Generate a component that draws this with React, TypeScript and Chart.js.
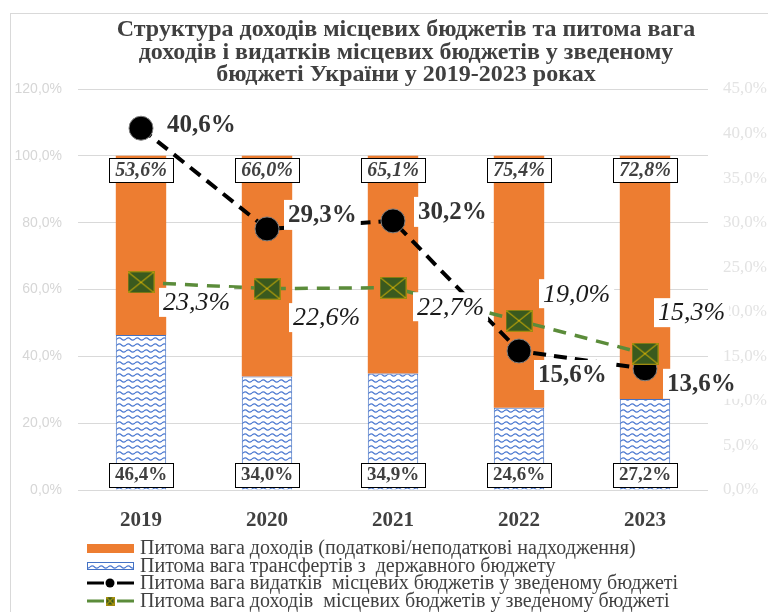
import React, { useEffect, useRef } from 'react';
import { Chart, registerables } from 'chart.js';

Chart.register(...registerables);

const years = ['2019', '2020', '2021', '2022', '2023'];
const ownRevenueShare = [53.6, 66.0, 65.1, 75.4, 72.8];
const transferShare = [46.4, 34.0, 34.9, 24.6, 27.2];
const expenditureShare = [40.6, 29.3, 30.2, 15.6, 13.6];
const revenueShare = [23.3, 22.6, 22.7, 19.0, 15.3];

const leftAxis = { min: 0, max: 120, step: 20 };
const rightAxis = { min: 0, max: 45, step: 5 };

const titleLines = [
  'Структура доходів місцевих бюджетів та питома вага',
  'доходів і видатків місцевих бюджетів у зведеному',
  'бюджеті України у 2019-2023 роках',
];

const legendLabels = [
  'Питома вага доходів (податкові/неподаткові надходження)',
  'Питома вага трансфертів з  державного бюджету',
  'Питома вага видатків  місцевих бюджетів у зведеному бюджеті',
  'Питома вага доходів  місцевих бюджетів у зведеному бюджеті',
];

// label placement offsets relative to each point (style only)
const expLabelOffsets = [[26, -4], [21, -14], [25, -9], [19, 24], [22, 15]];
const revLabelOffsets = [[22, 20], [26, 29], [24, 19], [24, -27], [13, -41]];

const SERIF = '"Liberation Serif", "Times New Roman", serif';
const ORANGE = '#ED7D31';
const BLUE = '#4472C4';

const fmt = (v: number) => v.toFixed(1).replace('.', ',') + '%';

function makeWavePattern(ctx: CanvasRenderingContext2D) {
  const c = document.createElement('canvas');
  c.width = 9;
  c.height = 6;
  const g = c.getContext('2d')!;
  g.fillStyle = '#ffffff';
  g.fillRect(0, 0, 9, 6);
  g.strokeStyle = '#4a78d0';
  g.lineWidth = 1.2;
  g.beginPath();
  g.moveTo(0, 3);
  g.quadraticCurveTo(2.25, 0.8, 4.5, 3);
  g.quadraticCurveTo(6.75, 5.2, 9, 3);
  g.stroke();
  return ctx.createPattern(c, 'repeat')!;
}

function makeGreenMarker(w: number, h: number) {
  const c = document.createElement('canvas');
  c.width = w;
  c.height = h;
  const g = c.getContext('2d')!;
  g.fillStyle = '#3A5A1E';
  g.fillRect(0, 0, w, h);
  g.strokeStyle = '#F2C200';
  g.lineWidth = 1;
  g.beginPath();
  g.moveTo(1, 1);
  g.lineTo(w - 1, h - 1);
  g.moveTo(w - 1, 1);
  g.lineTo(1, h - 1);
  g.stroke();
  g.strokeStyle = '#A08A10';
  g.strokeRect(0.5, 0.5, w - 1, h - 1);
  return c;
}

function textWithBg(ctx: CanvasRenderingContext2D, text: string, x: number, cy: number, font: string, color: string, h: number) {
  ctx.font = font;
  const w = ctx.measureText(text).width;
  ctx.fillStyle = '#ffffff';
  ctx.fillRect(x - 4, cy - h / 2, w + 8, h);
  ctx.fillStyle = color;
  ctx.textAlign = 'left';
  ctx.textBaseline = 'middle';
  ctx.fillText(text, x, cy + 1);
}

function boxedLabel(ctx: CanvasRenderingContext2D, text: string, cx: number, cy: number, font: string, color: string) {
  ctx.font = font;
  const w = ctx.measureText(text).width + 12;
  const h = 24;
  ctx.fillStyle = '#ffffff';
  ctx.fillRect(Math.round(cx - w / 2) + 0.5, Math.round(cy - h / 2) + 0.5, Math.round(w), h);
  ctx.strokeStyle = '#000000';
  ctx.lineWidth = 1;
  ctx.strokeRect(Math.round(cx - w / 2) + 0.5, Math.round(cy - h / 2) + 0.5, Math.round(w), h);
  ctx.fillStyle = color;
  ctx.textAlign = 'center';
  ctx.textBaseline = 'middle';
  ctx.fillText(text, cx, cy + 1);
}

export default function App() {
  const ref = useRef<HTMLCanvasElement>(null);

  useEffect(() => {
    const canvas = ref.current!;
    const ctx0 = canvas.getContext('2d')!;
    const wave = makeWavePattern(ctx0);
    const greenMarker = makeGreenMarker(27, 22);
    const greenLegendMarker = makeGreenMarker(9, 9);

    const plugin = {
      id: 'customDecor',
      beforeDraw(chart: any) {
        const ctx = chart.ctx;
        ctx.save();
        ctx.fillStyle = '#ffffff';
        ctx.fillRect(0, 0, chart.width, chart.height);
        ctx.strokeStyle = '#d9d9d9';
        ctx.lineWidth = 1;
        ctx.strokeRect(10.5, 13.5, 900, 900);
        ctx.restore();
      },
      afterDatasetsDraw(chart: any) {
        const ctx = chart.ctx;
        ctx.save();
        const blueMeta = chart.getDatasetMeta(0);
        const orangeMeta = chart.getDatasetMeta(1);
        const expMeta = chart.getDatasetMeta(2);
        const revMeta = chart.getDatasetMeta(3);
        orangeMeta.data.forEach((el: any, i: number) => {
          boxedLabel(ctx, fmt(ownRevenueShare[i]), el.x, el.y + 14, `italic bold 20px ${SERIF}`, '#404040');
        });
        blueMeta.data.forEach((el: any, i: number) => {
          boxedLabel(ctx, fmt(transferShare[i]), el.x, el.base - 15, `bold 19px ${SERIF}`, '#404040');
        });
        expMeta.data.forEach((el: any, i: number) => {
          const [dx, dy] = expLabelOffsets[i];
          textWithBg(ctx, fmt(expenditureShare[i]), el.x + dx, el.y + dy, `bold 25px ${SERIF}`, '#333333', 30);
        });
        revMeta.data.forEach((el: any, i: number) => {
          const [dx, dy] = revLabelOffsets[i];
          textWithBg(ctx, fmt(revenueShare[i]), el.x + dx, el.y + dy, `italic 26px ${SERIF}`, '#1a1a1a', 29);
        });
        ctx.restore();
      },
      afterDraw(chart: any) {
        const ctx = chart.ctx;
        ctx.save();
        // title
        ctx.font = `bold 24px ${SERIF}`;
        ctx.fillStyle = '#404040';
        ctx.textAlign = 'center';
        ctx.textBaseline = 'middle';
        titleLines.forEach((t, i) => ctx.fillText(t, 406, 30 + i * 22.5));
        // legend
        const rows = [548, 566, 583, 601];
        const x0 = 87, x1 = 134, cxm = 110;
        ctx.fillStyle = ORANGE;
        ctx.fillRect(x0, rows[0] - 4, x1 - x0, 9);
        ctx.fillStyle = wave;
        ctx.fillRect(x0, rows[1] - 4, x1 - x0, 8);
        ctx.strokeStyle = BLUE;
        ctx.lineWidth = 1;
        ctx.strokeRect(x0 + 0.5, rows[1] - 3.5, x1 - x0 - 1, 7);
        ctx.strokeStyle = '#000000';
        ctx.lineWidth = 3;
        ctx.beginPath();
        ctx.moveTo(x0, rows[2]);
        ctx.lineTo(cxm - 6, rows[2]);
        ctx.moveTo(cxm + 7, rows[2]);
        ctx.lineTo(x1, rows[2]);
        ctx.stroke();
        ctx.fillStyle = '#000000';
        ctx.beginPath();
        ctx.arc(cxm, rows[2], 4.5, 0, Math.PI * 2);
        ctx.fill();
        ctx.strokeStyle = '#5B8C3A';
        ctx.beginPath();
        ctx.moveTo(x0, rows[3]);
        ctx.lineTo(cxm - 6, rows[3]);
        ctx.moveTo(cxm + 7, rows[3]);
        ctx.lineTo(x1, rows[3]);
        ctx.stroke();
        ctx.drawImage(greenLegendMarker, cxm - 4.5, rows[3] - 4.5);
        ctx.font = `20px ${SERIF}`;
        ctx.fillStyle = '#404040';
        ctx.textAlign = 'left';
        ctx.textBaseline = 'middle';
        legendLabels.forEach((t, i) => ctx.fillText(t, 140, rows[i] + 1));
        ctx.restore();
      },
    };

    const chart = new Chart(canvas, {
      type: 'bar',
      data: {
        labels: years,
        datasets: [
          {
            type: 'bar',
            label: legendLabels[1],
            data: transferShare,
            backgroundColor: wave,
            borderColor: BLUE,
            borderWidth: 1,
            yAxisID: 'y',
            order: 3,
            barPercentage: 0.4,
            categoryPercentage: 1,
          },
          {
            type: 'bar',
            label: legendLabels[0],
            data: ownRevenueShare,
            backgroundColor: ORANGE,
            borderWidth: 0,
            yAxisID: 'y',
            order: 3,
            barPercentage: 0.4,
            categoryPercentage: 1,
          },
          {
            type: 'line',
            label: legendLabels[2],
            data: expenditureShare,
            yAxisID: 'y1',
            borderColor: '#000000',
            borderWidth: 4,
            borderDash: [13, 8],
            pointStyle: 'circle',
            pointRadius: 12,
            pointBackgroundColor: '#000000',
            pointBorderColor: '#7f7f7f',
            pointBorderWidth: 1,
            tension: 0,
            order: 2,
          },
          {
            type: 'line',
            label: legendLabels[3],
            data: revenueShare,
            yAxisID: 'y1',
            borderColor: '#5B8C3A',
            borderWidth: 3.5,
            borderDash: [13, 9],
            pointStyle: greenMarker,
            pointRadius: 12,
            tension: 0,
            order: 1,
          },
        ] as any,
      },
      options: {
        responsive: false,
        animation: false,
        devicePixelRatio: 1,
        layout: { padding: { top: 89, bottom: 82, left: 0, right: 0 } },
        plugins: {
          legend: { display: false },
          title: { display: false },
          tooltip: { enabled: false },
        },
        scales: {
          x: {
            stacked: true,
            grid: { display: false },
            border: { display: false },
            ticks: {
              font: { family: SERIF, size: 21, weight: 'bold' },
              color: '#404040',
              padding: 10,
            },
            afterFit: (s: any) => { s.height = 40; },
          },
          y: {
            stacked: true,
            position: 'left',
            min: leftAxis.min,
            max: leftAxis.max,
            grid: { color: '#d9d9d9', drawTicks: false, lineWidth: 1 },
            border: { display: false },
            ticks: {
              stepSize: leftAxis.step,
              padding: 16,
              color: '#d6d6d6',
              font: { family: '"Liberation Sans", Arial, sans-serif', size: 14 },
              callback: (v: any) => fmt(Number(v)),
            },
            afterFit: (s: any) => { s.width = 78; },
          },
          y1: {
            position: 'right',
            min: rightAxis.min,
            max: rightAxis.max,
            grid: { display: false, drawTicks: false },
            border: { display: false },
            ticks: {
              stepSize: rightAxis.step,
              padding: 15,
              color: '#e3e3e3',
              font: { family: SERIF, size: 17 },
              callback: (v: any) => fmt(Number(v)),
            },
            afterFit: (s: any) => { s.width = 60; },
          },
        },
      } as any,
      plugins: [plugin],
    });
    return () => chart.destroy();
  }, []);

  return (
    <div style={{ position: 'absolute', left: 0, top: 0, width: 768, height: 612 }}>
      <canvas ref={ref} width={768} height={612} style={{ display: 'block' }} />
    </div>
  );
}
